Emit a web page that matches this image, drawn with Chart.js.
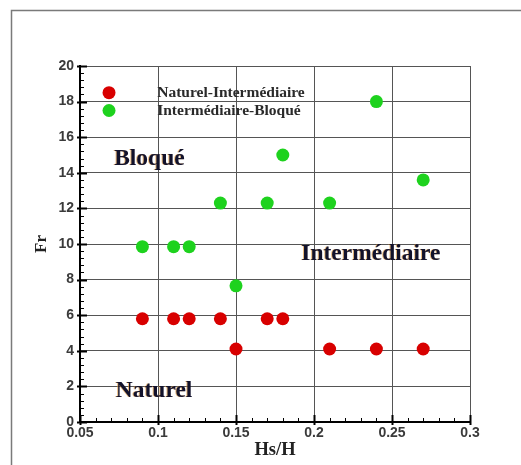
<!DOCTYPE html>
<html>
<head>
<meta charset="utf-8">
<script src="https://cdn.jsdelivr.net/npm/chart.js@4/dist/chart.umd.min.js"></script>
<style>
html,body{margin:0;padding:0;background:#fff;}
#wrap{width:521px;height:465px;position:relative;}
</style>
</head>
<body>
<div id="wrap"><canvas id="c" width="521" height="465"></canvas></div>
<script>
// ---- data ----
const seriesNames = ['Naturel-Intermédiaire', 'Intermédiaire-Bloqué'];
const naturelX = [0.09, 0.11, 0.12, 0.14, 0.15, 0.17, 0.18, 0.21, 0.24, 0.27];
const naturelY = [5.8, 5.8, 5.8, 5.8, 4.1, 5.8, 5.8, 4.1, 4.1, 4.1];
const bloqueX  = [0.09, 0.11, 0.12, 0.14, 0.15, 0.17, 0.18, 0.21, 0.24, 0.27];
const bloqueY  = [9.85, 9.85, 9.85, 12.3, 7.65, 12.3, 15.0, 12.3, 18.0, 13.6];
const xTicks = [0.05, 0.1, 0.15, 0.2, 0.25, 0.3];
const yTicks = [0, 2, 4, 6, 8, 10, 12, 14, 16, 18, 20];
const regionLabels = ['Bloqué', 'Intermédiaire', 'Naturel'];
const xTitle = 'Hs/H';
const yTitle = 'Fr';

// ---- annotation placement (data coordinates) ----
const regionPos = [[0.0945, 14.8], [0.2365, 9.45], [0.0975, 1.75]];
const legendMarkerX = 0.0686, legendTextX = 0.0995, legendY = [18.5, 17.5];

const colors = ['#d80000', '#1ed21e'];
const toPts = (xs, ys) => xs.map((x, i) => ({x, y: ys[i]}));

const overlay = {
  id: 'overlay',
  beforeDraw(chart) {
    const ctx = chart.ctx;
    ctx.save();
    ctx.fillStyle = '#fff';
    ctx.fillRect(0, 0, chart.width, chart.height);
    ctx.strokeStyle = '#7a7a7a';
    ctx.lineWidth = 1.5;
    ctx.beginPath();
    ctx.moveTo(11.5, 465); ctx.lineTo(11.5, 10.5); ctx.lineTo(521, 10.5);
    ctx.stroke();
    ctx.restore();
  },
  afterDraw(chart) {
    const ctx = chart.ctx;
    const xs = chart.scales.x, ys = chart.scales.y;
    const a = chart.chartArea;
    ctx.save();
    // inward ticks
    ctx.strokeStyle = '#000';
    for (let v = 0; v <= 20.001; v += 0.4) {
      const py = Math.round(ys.getPixelForValue(v)) + 0.5;
      const major = Math.abs(v / 2 - Math.round(v / 2)) < 1e-6;
      ctx.lineWidth = major ? 2 : 1;
      ctx.beginPath(); ctx.moveTo(a.left - (major ? 3 : 0), py); ctx.lineTo(a.left + (major ? 7 : 4), py); ctx.stroke();
    }
    for (let i = 0; i <= 25; i++) {
      const v = 0.05 + i * 0.01;
      const px = Math.round(xs.getPixelForValue(v)) + 0.5;
      const major = i % 5 === 0;
      ctx.lineWidth = major ? 2 : 1;
      ctx.beginPath(); ctx.moveTo(px, a.bottom + (major ? 3 : 0)); ctx.lineTo(px, a.bottom - (major ? 7 : 4)); ctx.stroke();
    }
    // legend
    ctx.font = 'bold 15.5px "Liberation Serif"';
    ctx.textBaseline = 'middle';
    ctx.textAlign = 'left';
    seriesNames.forEach((n, i) => {
      const py = ys.getPixelForValue(legendY[i]);
      ctx.fillStyle = colors[i];
      ctx.beginPath(); ctx.arc(xs.getPixelForValue(legendMarkerX), py, 6.5, 0, Math.PI * 2); ctx.fill();
      ctx.fillStyle = '#2a2a2a';
      ctx.fillText(n, xs.getPixelForValue(legendTextX), py);
    });
    // region labels
    ctx.font = 'bold 23.5px "Liberation Serif"';
    ctx.textAlign = 'center';
    regionLabels.forEach((t, i) => {
      const px = xs.getPixelForValue(regionPos[i][0]);
      const py = ys.getPixelForValue(regionPos[i][1]);
      ctx.fillStyle = 'rgba(220,140,40,0.6)';
      ctx.fillText(t, px - 1, py);
      ctx.fillStyle = '#12122c';
      ctx.fillText(t, px, py);
    });
    ctx.restore();
  }
};

new Chart(document.getElementById('c'), {
  type: 'scatter',
  data: {
    datasets: [
      {label: seriesNames[0], data: toPts(naturelX, naturelY), backgroundColor: colors[0], borderWidth: 0, pointRadius: 6.5, pointHoverRadius: 6.5},
      {label: seriesNames[1], data: toPts(bloqueX, bloqueY), backgroundColor: colors[1], borderWidth: 0, pointRadius: 6.5, pointHoverRadius: 6.5}
    ]
  },
  options: {
    responsive: false,
    animation: false,
    events: [],
    layout: {padding: {left: 0, top: 66, right: 51, bottom: 0}},
    plugins: {legend: {display: false}, tooltip: {enabled: false}},
    scales: {
      x: {
        type: 'linear', min: 0.05, max: 0.3,
        afterBuildTicks: s => { s.ticks = xTicks.map(v => ({value: v})); },
        afterFit: s => { s.height = 43; },
        grid: {color: '#555', lineWidth: 1, drawTicks: false},
        border: {display: true, color: '#000', width: 2},
        ticks: {padding: 3, color: '#3a3a3a', font: {family: '"Liberation Sans"', size: 14, weight: 'bold'}, maxRotation: 0,
          callback: v => String(v)},
        title: {display: true, text: xTitle, color: '#222', font: {family: '"Liberation Serif"', size: 18.5, weight: 'bold'}, padding: {top: 0, bottom: 4}}
      },
      y: {
        type: 'linear', min: 0, max: 20,
        afterBuildTicks: s => { s.ticks = yTicks.map(v => ({value: v})); },
        afterFit: s => { s.width = 80; },
        grid: {color: '#555', lineWidth: 1, drawTicks: false},
        border: {display: true, color: '#000', width: 2},
        ticks: {padding: 6, color: '#3a3a3a', font: {family: '"Liberation Sans"', size: 14, weight: 'bold'}},
        title: {display: true, text: yTitle, color: '#222', font: {family: '"Liberation Serif"', size: 17, weight: 'bold'}, padding: {top: 31, bottom: 0}}
      }
    }
  },
  plugins: [overlay]
});
</script>
</body>
</html>
